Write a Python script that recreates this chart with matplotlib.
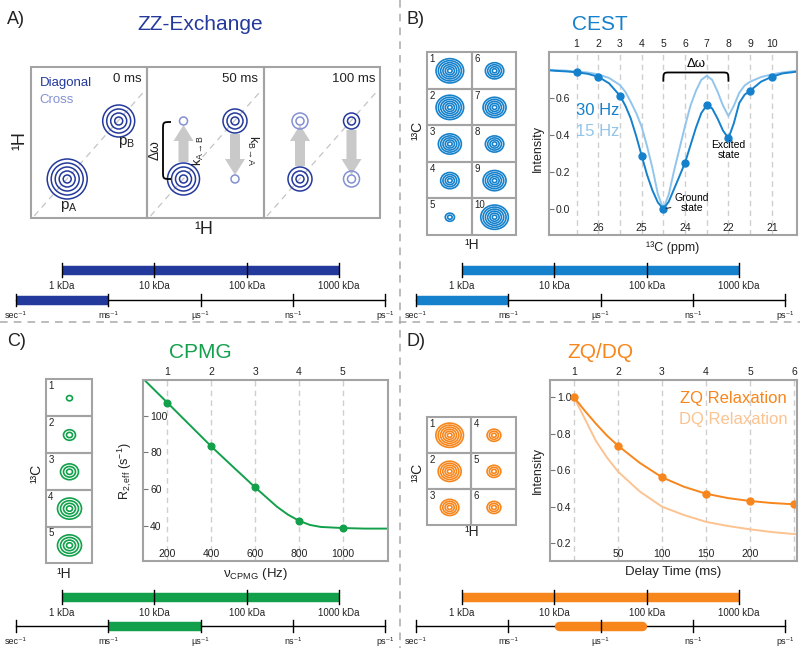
import numpy as np
import matplotlib.pyplot as plt
from matplotlib.patches import Ellipse, Rectangle, FancyArrow, PathPatch
from matplotlib.path import Path

plt.rcParams['font.family'] = ['Liberation Sans', 'DejaVu Sans']
plt.rcParams['mathtext.fontset'] = 'custom'
plt.rcParams['mathtext.rm'] = 'Liberation Sans'
plt.rcParams['mathtext.it'] = 'Liberation Sans:italic'
plt.rcParams['mathtext.bf'] = 'Liberation Sans:bold'

W, H = 800, 648

# ── COLOURS ────────────────────────────────────────────────
NAVY, NAVY_LT = '#24399c', '#8391d3'
BLUE, BLUE_LT = '#1581cc', '#92c5ec'
GREEN = '#12a04b'
ORANGE, ORANGE_LT = '#f7861c', '#fcc391'
FRAME = '#a3a3a3'
GRID = '#cfcfcf'
TXT = '#222222'

# ── DATA ───────────────────────────────────────────────────
mass_labels = ['1 kDa', '10 kDa', '100 kDa', '1000 kDa']
rate_labels = ['sec⁻¹', 'ms⁻¹', 'µs⁻¹', 'ns⁻¹', 'ps⁻¹']
# window of each method on the rate axis (0 = sec-1, 1 = ms-1, 2 = us-1 ...)
zz_window = (0, 1)
cest_window = (0, 1)
cpmg_window = (1, 2)
zqdq_window = (1.5, 2.5)

# ZZ exchange: contour levels of the peaks at each mixing time
zz_times = ['0 ms', '50 ms', '100 ms']
zz_diag_A = [5, 4, 3]
zz_diag_B = [4, 3, 2]
zz_cross = [0, 1, 2]

# CEST
cest_planes = [1, 2, 3, 4, 5, 6, 7, 8, 9, 10]
cest_30hz = [0.741, 0.717, 0.614, 0.289, 0.0, 0.251, 0.562, 0.383, 0.641, 0.717]
cest_ppm_at = [2, 4, 6, 8, 10]
cest_ppm = ['26', '25', '24', '22', '21']
cest_fit_x = [-0.3, 0, 0.5, 1, 1.5, 2, 2.5, 3, 3.25, 3.5, 3.75, 4, 4.25, 4.5,
              4.75, 5, 5.25, 5.5, 5.75, 6, 6.25, 6.5, 6.75, 7, 7.25, 7.5, 7.75,
              8, 8.25, 8.5, 8.75, 9, 9.5, 10, 10.5, 11.2]
cest_fit_30hz = [0.752, 0.749, 0.746, 0.741, 0.733, 0.717, 0.681, 0.614, 0.56,
                 0.49, 0.395, 0.289, 0.185, 0.10, 0.035, 0.0, 0.04, 0.11, 0.18,
                 0.251, 0.345, 0.44, 0.52, 0.562, 0.545, 0.49, 0.425, 0.383,
                 0.465, 0.575, 0.62, 0.641, 0.69, 0.717, 0.735, 0.745]
cest_fit_15hz = [0.755, 0.753, 0.75, 0.745, 0.74, 0.73, 0.71, 0.672, 0.635,
                 0.58, 0.52, 0.446, 0.34, 0.22, 0.08, 0.0, 0.08, 0.21, 0.33,
                 0.45, 0.56, 0.64, 0.70, 0.722, 0.70, 0.636, 0.56, 0.504,
                 0.56, 0.63, 0.67, 0.69, 0.715, 0.73, 0.74, 0.75]
cest_thumb_levels = [6, 6, 5, 4, 2, 4, 5, 4, 5, 6]

# CPMG
cpmg_nu = [200, 400, 600, 800, 1000]
cpmg_r2 = [107.0, 83.2, 60.9, 42.7, 38.7]
cpmg_fit_nu = [90, 200, 300, 400, 500, 600, 700, 750, 800, 850, 900, 1000, 1100, 1210]
cpmg_fit_r2 = [120.0, 107.0, 95.1, 83.2, 72.0, 60.9, 50.3, 46.0, 42.7, 40.4, 39.3, 38.7, 38.4, 38.4]
cpmg_thumb_levels = [1, 2, 3, 4, 4]

# ZQ / DQ
zq_delay = [0, 50, 100, 150, 200, 250]
zq_int = [1.0, 0.735, 0.562, 0.472, 0.432, 0.414]
fit_delay = [0, 12.5, 25, 37.5, 50, 75, 100, 125, 150, 175, 200, 225, 250, 256]
zq_fit = [1.0, 0.925, 0.855, 0.79, 0.735, 0.64, 0.562, 0.51, 0.472, 0.448, 0.432, 0.421, 0.414, 0.413]
dq_fit = [1.0, 0.88, 0.76, 0.67, 0.593, 0.483, 0.401, 0.355, 0.318, 0.295, 0.277, 0.262, 0.251, 0.249]
zqdq_thumb_levels = [6, 5, 4, 3, 3, 3]

# ── FIGURE ─────────────────────────────────────────────────
fig = plt.figure(figsize=(W / 100, H / 100), dpi=100)


def px_axes(x0, y0, x1, y1):
    return fig.add_axes([x0 / W, 1 - y1 / H, (x1 - x0) / W, (y1 - y0) / H])


def dress(ax, top_at, bot_at, bot_lab, yt, ylab):
    for s in ax.spines.values():
        s.set_color(FRAME)
        s.set_linewidth(1.5)
    ax.set_xticks(top_at, [str(t) for t in range(1, len(top_at) + 1)])
    ax.tick_params(axis='x', bottom=False, top=False, labelbottom=False,
                   labeltop=True, pad=-1.5, labelsize=7.5, labelcolor=TXT)
    ax.set_yticks(yt, ylab)
    ax.tick_params(axis='y', direction='in', length=3.5, width=0.8,
                   color='#777777', pad=-5, labelsize=7.5, labelcolor=TXT)
    for t in ax.get_yticklabels():
        t.set_horizontalalignment('left')
    for x in top_at:
        ax.axvline(x, color=GRID, lw=1, ls=(0, (4, 3)), zorder=0)
    for x, s in zip(bot_at, bot_lab):
        ax.annotate(s, (x, 0), xycoords=('data', 'axes fraction'), xytext=(0, 1.5),
                    textcoords='offset points', ha='center', va='bottom',
                    fontsize=7.5, color=TXT)


# ── B) CEST profile ────────────────────────────────────────
axB = px_axes(549, 52, 797, 235)
dress(axB, cest_planes, cest_ppm_at, cest_ppm, [0, 0.2, 0.4, 0.6],
      ['0.0', '0.2', '0.4', '0.6'])
axB.plot(cest_fit_x, cest_fit_15hz, color=BLUE_LT, lw=1.4)
axB.plot(cest_fit_x, cest_fit_30hz, color=BLUE, lw=1.4)
axB.plot(cest_planes, cest_30hz, 'o', color=BLUE, ms=5)
axB.set_xlim(-0.27, 11.16)
axB.set_ylim(-0.141, 0.851)
axB.text(0.97, 0.533, '30 Hz', color=BLUE, fontsize=12, va='center')
axB.text(0.97, 0.419, '15 Hz', color=BLUE_LT, fontsize=12, va='center')
brk = Path([(5, 0.69), (5, 0.74), (5, 0.74), (5.3, 0.74), (7.7, 0.74),
            (8, 0.74), (8, 0.74), (8, 0.69)],
           [Path.MOVETO, Path.CURVE4, Path.CURVE4, Path.CURVE4, Path.LINETO,
            Path.CURVE4, Path.CURVE4, Path.CURVE4])
axB.add_patch(PathPatch(brk, fill=False, lw=1.3, ec='black'))
axB.text(6.5, 0.785, 'Δω', ha='center', va='center', fontsize=9.5)
axB.annotate('Ground\nstate', xy=(5, 0), xytext=(6.33, 0.031), ha='center',
             va='center', fontsize=7.5, linespacing=1.0,
             arrowprops=dict(arrowstyle='-', color='#333333', lw=0.8, shrinkA=1, shrinkB=2))
axB.text(8.01, 0.32, 'Excited\nstate', ha='center', va='center', fontsize=7.5,
         linespacing=1.0)

# ── C) CPMG dispersion ─────────────────────────────────────
axC = px_axes(143.3, 380, 387.7, 560.7)
dress(axC, cpmg_nu, cpmg_nu, [str(v) for v in cpmg_nu], [40, 60, 80, 100],
      ['40', '60', '80', '100'])
axC.plot(cpmg_fit_nu, cpmg_fit_r2, color=GREEN, lw=1.4)
axC.plot(cpmg_nu, cpmg_r2, 'o', color=GREEN, ms=4.8)
axC.set_xlim(90, 1205)
axC.set_ylim(20.9, 119.4)

# ── D) ZQ / DQ relaxation ──────────────────────────────────
axD = px_axes(550, 380, 797, 560.7)
dress(axD, zq_delay, zq_delay[1:5], [str(v) for v in zq_delay[1:5]],
      [0.2, 0.4, 0.6, 0.8, 1.0], ['0.2', '0.4', '0.6', '0.8', '1.0'])
axD.plot(fit_delay, dq_fit, color=ORANGE_LT, lw=1.4)
axD.plot(fit_delay, zq_fit, color=ORANGE, lw=1.4)
axD.plot(zq_delay, zq_int, 'o', color=ORANGE, ms=5)
axD.set_xlim(-27.3, 253.4)
axD.set_ylim(0.105, 1.095)
axD.text(242, 0.996, 'ZQ Relaxation', color=ORANGE, fontsize=12, ha='right', va='center')
axD.text(243, 0.881, 'DQ Relaxation', color=ORANGE_LT, fontsize=12, ha='right', va='center')

# ── OVERLAY (pixel coordinates) ────────────────────────────
bg = fig.add_axes([0, 0, 1, 1], zorder=5)
bg.set_xlim(0, W)
bg.set_ylim(H, 0)
bg.axis('off')

sep = dict(color='#aaaaaa', lw=1.1, ls=(0, (5, 4)))
bg.plot([400, 400], [0, H], **sep)
bg.plot([0, W], [322, 322], **sep)


def rings(cx, cy, n, step, color, lw=1.1, squash=1.0):
    for k in range(n, 0, -1):
        r = k * step
        bg.add_patch(Ellipse((cx, cy), 2 * r, 2 * r * squash, fill=False,
                             ec=color, lw=lw, zorder=3))


def thumbs(x0, y0, cw, rh, nrow, levels, step, color):
    for i, n in enumerate(levels):
        col, row = divmod(i, nrow)
        cx0, cy0 = x0 + col * cw, y0 + row * rh
        bg.add_patch(Rectangle((cx0, cy0), cw, rh, fill=False, ec=FRAME, lw=1.5))
        rings(cx0 + cw / 2 + 0.5, cy0 + rh / 2 + 0.5, n, step, color,
              lw=1.2, squash=0.88)
        bg.text(cx0 + 2.5, cy0 + 2, str(i + 1), ha='left', va='top',
                fontsize=7, color=TXT, zorder=4)


def scales(xo, ym, yt, window, color, cap='butt'):
    def u2x(u):
        return xo + 16 + u * 92.25
    bg.plot([u2x(0.5), u2x(3.5)], [ym, ym], color=color, lw=6.8,
            solid_capstyle='butt')
    for k, lab in enumerate(mass_labels):
        x = u2x(0.5 + k)
        bg.plot([x, x], [ym - 7, ym + 7], color='black', lw=1)
        bg.text(x, ym + 16, lab, ha='center', va='center', fontsize=7, color=TXT)
    bg.plot([u2x(0), u2x(4)], [yt, yt], color='black', lw=1)
    inset = 4.7 if cap == 'round' else 0
    bg.plot([u2x(window[0]) + inset, u2x(window[1]) - inset], [yt, yt],
            color=color, lw=6.8, solid_capstyle=cap)
    for k, lab in enumerate(rate_labels):
        x = u2x(k)
        bg.plot([x, x], [yt - 6, yt + 6], color='black', lw=1)
        bg.text(x, yt + 16, lab, ha='center', va='center', fontsize=6.5, color=TXT)


# panel letters and titles
for x, y, s in [(7, 19, 'A)'), (407, 19, 'B)'), (7, 342, 'C)'), (407, 342, 'D)')]:
    bg.text(x, y, s, fontsize=13, va='center', ha='left', color=TXT)
bg.text(200, 25, 'ZZ-Exchange', fontsize=15, color=NAVY, ha='center', va='center')
bg.text(600, 25, 'CEST', fontsize=15, color=BLUE, ha='center', va='center')
bg.text(200, 353, 'CPMG', fontsize=15, color=GREEN, ha='center', va='center')
bg.text(600, 353, 'ZQ/DQ', fontsize=15, color=ORANGE, ha='center', va='center')

# ── A) ZZ exchange spectra ─────────────────────────────────
box_left = [30.7, 147, 263.5, 380]
top, bot = 67, 218
for i in range(3):
    L, R = box_left[i], box_left[i + 1]
    bg.add_patch(Rectangle((L, top), R - L, bot - top, fill=False, ec=FRAME, lw=1.5))
    xa, ya = L + 36.5, 179
    xb, yb = L + 88, 121
    # diagonal
    bg.plot([xa - 33, xb + 24], [ya + 37, yb - 28], color='#c4c4c4', lw=0.9,
            ls=(0, (5, 4)), zorder=1)
    bg.text(R - 5, 79, zz_times[i], ha='right', va='center', fontsize=9.5, color=TXT)
    if zz_cross[i]:
        bg.add_patch(FancyArrow(xa, ya - zz_diag_A[i] * 4 - 1, 0,
                                (yb + 4) - (ya - zz_diag_A[i] * 4 - 1),
                                width=10, head_width=20, head_length=16,
                                length_includes_head=True, color='#c9c9c9',
                                lw=0, zorder=2))
        bg.add_patch(FancyArrow(xb, yb + zz_diag_B[i] * 4 + 1, 0,
                                (ya - 4) - (yb + zz_diag_B[i] * 4 + 1),
                                width=10, head_width=20, head_length=16,
                                length_includes_head=True, color='#c9c9c9',
                                lw=0, zorder=2))
        rings(xa, yb, zz_cross[i], 4, NAVY_LT, lw=1.1)
        rings(xb, ya, zz_cross[i], 4, NAVY_LT, lw=1.1)
    rings(xa, ya, zz_diag_A[i], 4, NAVY, lw=1.1)
    rings(xb, yb, zz_diag_B[i], 4, NAVY, lw=1.1)
    if i == 0:
        bg.text(xa + 2, 207, r'p$_{\mathrm{A}}$', ha='center', va='center', fontsize=11, color=TXT)
        bg.text(xb + 8, 143, r'p$_{\mathrm{B}}$', ha='center', va='center', fontsize=11, color=TXT)
    if i == 1:
        bg.text(xa + 14.5, 150.5, r'k$_{\mathrm{A}\rightarrow\mathrm{B}}$', rotation=90,
                ha='center', va='center', fontsize=9, color=TXT)
        bg.text(xb + 18, 151, r'k$_{\mathrm{B}\rightarrow\mathrm{A}}$', rotation=-90,
                ha='center', va='center', fontsize=9, color=TXT)
        bp = Path([(171, 122), (163, 122), (163, 122), (163, 130), (163, 171),
                   (163, 179), (163, 179), (171, 179)],
                  [Path.MOVETO, Path.CURVE4, Path.CURVE4, Path.CURVE4, Path.LINETO,
                   Path.CURVE4, Path.CURVE4, Path.CURVE4])
        bg.add_patch(PathPatch(bp, fill=False, lw=1.3, ec='black', zorder=4))
        bg.text(154.5, 150.5, 'Δω', rotation=90, ha='center', va='center',
                fontsize=10, color=TXT)
bg.text(39.7, 83, 'Diagonal', color=NAVY, fontsize=9.5, ha='left', va='center')
bg.text(39.7, 100, 'Cross', color=NAVY_LT, fontsize=9.5, ha='left', va='center')
bg.text(20, 141, '¹H', rotation=90, fontsize=13, ha='center', va='center', color=TXT)
bg.text(204, 230, '¹H', fontsize=13, ha='center', va='center', color=TXT)

# ── thumbnails of the planes ──────────────────────────────
thumbs(427, 52, 44.7, 36.6, 5, cest_thumb_levels, 2.3, BLUE)
bg.text(417, 130, '¹³C', rotation=90, fontsize=10, ha='center', va='center', color=TXT)
bg.text(471.5, 245, '¹H', fontsize=10, ha='center', va='center', color=TXT)

thumbs(45.7, 379.3, 46.6, 36.8, 5, cpmg_thumb_levels, 3.0, GREEN)
bg.text(36, 473, '¹³C', rotation=90, fontsize=10, ha='center', va='center', color=TXT)
bg.text(64, 574, '¹H', fontsize=10, ha='center', va='center', color=TXT)

thumbs(427, 416.7, 44.3, 36.1, 3, zqdq_thumb_levels, 2.3, ORANGE)
bg.text(417, 472, '¹³C', rotation=90, fontsize=10, ha='center', va='center', color=TXT)
bg.text(471.5, 532, '¹H', fontsize=10, ha='center', va='center', color=TXT)

# axis titles of the data panels
bg.text(538, 149, 'Intensity', rotation=90, fontsize=9, ha='center', va='center', color=TXT)
bg.text(673, 248, '¹³C (ppm)', fontsize=9, ha='center', va='center', color=TXT)
bg.text(125, 471, r'R$_{\mathrm{2,eff}}$ (s$^{\mathrm{-1}}$)', rotation=90, fontsize=9,
        ha='center', va='center', color=TXT)
bg.text(255, 574, r'$\mathrm{\nu_{CPMG}}$ (Hz)', fontsize=9.5, ha='center', va='center', color=TXT)
bg.text(538, 471, 'Intensity', rotation=90, fontsize=9, ha='center', va='center', color=TXT)
bg.text(673, 572, 'Delay Time (ms)', fontsize=9.5, ha='center', va='center', color=TXT)

# ── size / time-scale rulers ───────────────────────────────
scales(0, 270, 300, zz_window, NAVY)
scales(400, 270, 300, cest_window, BLUE)
scales(0, 596.7, 626, cpmg_window, GREEN)
scales(400, 596.7, 626, zqdq_window, ORANGE, cap='round')

fig.savefig('out.png', dpi=100, facecolor='white')
